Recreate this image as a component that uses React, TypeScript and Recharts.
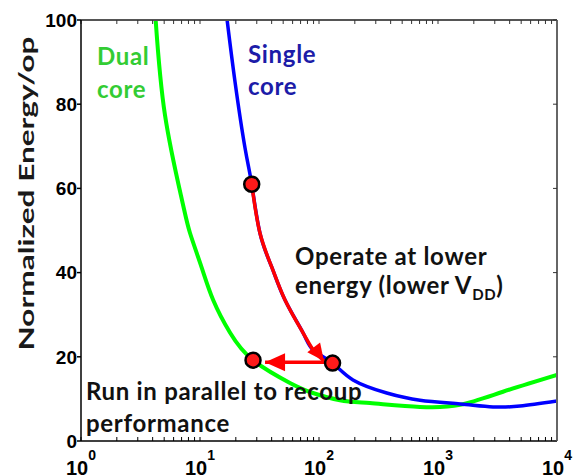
import React from 'react';
import { ComposedChart, Line, Scatter, XAxis, YAxis, ReferenceDot } from 'recharts';

// ---- data ----
const singleCoreOps = [16.9, 19.7, 23.9, 27.2, 31.9, 40.1, 51.8, 73.4, 89.5, 130, 193, 371, 706, 1531, 2898, 4887, 10000];
const singleCoreEnergy = [100, 85.3, 69.6, 61.0, 49.4, 41.3, 33.5, 25.7, 21.6, 18.5, 14.5, 11.4, 9.7, 8.8, 8.1, 8.3, 9.5];

const dualCoreOps = [4.24, 5.08, 7.06, 8.24, 10.3, 12.9, 17.9, 27.9, 57, 89, 150, 268, 706, 1531, 3516, 10000];
const dualCoreEnergy = [100, 77.4, 57.2, 49.4, 41.3, 33.5, 25.7, 19.2, 13.8, 11.4, 9.7, 9.0, 8.1, 8.6, 11.7, 15.7];

const lowerVddOps = [27.2, 31.9, 40.1, 51.8, 73.4, 89.5, 110];
const lowerVddEnergy = [61.0, 49.4, 41.3, 33.5, 25.7, 21.6, 19.0];

const parallelOps = [118, 35.2];
const parallelEnergy = [18.7, 18.7];

const markerOps = [27.2, 27.9, 130];
const markerEnergy = [61.0, 19.2, 18.5];

const xMajorTicks = [1, 10, 100, 1000, 10000];
const xTickExponents = ['0', '1', '2', '3', '4'];
const xAllTicks = [
  1, 2, 3, 4, 5, 6, 7, 8, 9,
  10, 20, 30, 40, 50, 60, 70, 80, 90,
  100, 200, 300, 400, 500, 600, 700, 800, 900,
  1000, 2000, 3000, 4000, 5000, 6000, 7000, 8000, 9000,
  10000,
];
const yTicks = [0, 20, 40, 60, 80, 100];

const toRows = (xs: number[], ys: number[]) => xs.map((x, i) => ({ x, y: ys[i] }));

const AXIS_FONT = 'Liberation Sans, Arial, sans-serif';
const TEXT_FONT = 'Lato, Open Sans, sans-serif';

const XTick = (props: any) => {
  const { x, y, payload } = props;
  const idx = xMajorTicks.indexOf(payload.value);
  return (
    <text x={x} y={y} textAnchor="middle" fontFamily={AXIS_FONT} fontWeight="bold" fill="#000">
      <tspan fontSize={20} dy={26}>10</tspan>
      <tspan fontSize={14} dy={-15}>{xTickExponents[idx]}</tspan>
    </text>
  );
};

const NoTick = () => <g />;

const makeArrowHead = (angleDeg: number, len: number, half: number, count: number) => (p: any) => {
  if (p.index !== count - 1 || p.cx == null) return <g key={`a-${p.index}`} />;
  const a = (angleDeg * Math.PI) / 180;
  const { cx, cy } = p;
  const bx = cx - len * Math.cos(a);
  const by = cy - len * Math.sin(a);
  const nx = -Math.sin(a) * half;
  const ny = Math.cos(a) * half;
  return (
    <polygon
      key={`a-${p.index}`}
      points={`${cx},${cy} ${bx + nx},${by + ny} ${bx - nx},${by - ny}`}
      fill="#ff0000"
    />
  );
};

const YLabel = (props: any) => {
  const vb = props.viewBox;
  const cx = vb.x + 25;
  const cy = vb.y + vb.height / 2 - 37;
  return (
    <text
      x={cx}
      y={cy}
      transform={`rotate(-90 ${cx} ${cy})`}
      textAnchor="middle"
      dominantBaseline="central"
      fontFamily={TEXT_FONT}
      fontWeight="bold"
      fontSize={21}
      textLength={314}
      lengthAdjust="spacingAndGlyphs"
      fill="#1a1a1a"
    >
      Normalized Energy/op
    </text>
  );
};

const multiLine = (lines: string[], color: string, lh: number, fs: number) => (p: any) => {
  const vb = p.viewBox;
  return (
    <text x={vb.x} y={vb.y} fill={color} fontFamily={TEXT_FONT} fontWeight="bold" fontSize={fs} letterSpacing={0.7}>
      {lines.map((l, i) => (
        <tspan key={i} x={vb.x} dy={i === 0 ? 0 : lh}>
          {l}
        </tspan>
      ))}
    </text>
  );
};

const operateLabel = (p: any) => {
  const vb = p.viewBox;
  return (
    <text x={vb.x} y={vb.y} fill="#111" fontFamily={TEXT_FONT} fontWeight="bold" fontSize={24} letterSpacing={0.7}>
      <tspan x={vb.x} dy={0}>Operate at lower</tspan>
      <tspan x={vb.x} dy={29}>energy (lower V</tspan>
      <tspan fontSize={15} dy={6}>DD</tspan>
      <tspan dy={-6}>)</tspan>
    </text>
  );
};

const Marker = (p: any) => (
  <circle cx={p.cx} cy={p.cy} r={7.5} fill="#ff1a1a" stroke="#000" strokeWidth={2.5} />
);

export default function App() {
  const single = toRows(singleCoreOps, singleCoreEnergy);
  const dual = toRows(dualCoreOps, dualCoreEnergy);
  const lowerVdd = toRows(lowerVddOps, lowerVddEnergy);
  const parallel = toRows(parallelOps, parallelEnergy);
  const markers = toRows(markerOps, markerEnergy);

  const xCommon = {
    dataKey: 'x',
    type: 'number' as const,
    scale: 'log' as const,
    domain: [1, 10000],
    allowDataOverflow: true,
    interval: 0 as const,
  };

  return (
    <div style={{ position: 'absolute', left: 0, top: 0, width: 576, height: 475, background: '#fff' }}>
      <ComposedChart width={576} height={475} margin={{ top: 20, right: 19, bottom: 0, left: 0 }}>
        <XAxis
          {...xCommon}
          xAxisId="main"
          ticks={xMajorTicks}
          tickLine={false}
          axisLine={{ stroke: '#000', strokeWidth: 1.5 }}
          height={34}
          tick={<XTick />}
        />
        <XAxis
          {...xCommon}
          xAxisId="bm"
          ticks={xAllTicks}
          mirror
          tickSize={4}
          tickLine={{ stroke: '#000', strokeWidth: 1 }}
          axisLine={false}
          tick={NoTick}
        />
        <XAxis
          {...xCommon}
          xAxisId="tm"
          orientation="top"
          ticks={xAllTicks}
          mirror
          tickSize={4}
          tickLine={{ stroke: '#333', strokeWidth: 1 }}
          axisLine={{ stroke: '#555', strokeWidth: 2 }}
          tick={NoTick}
        />
        <YAxis
          yAxisId="main"
          type="number"
          domain={[0, 100]}
          allowDataOverflow
          ticks={yTicks}
          interval={0}
          width={81}
          tickSize={4}
          tickMargin={0}
          tickLine={{ stroke: '#000', strokeWidth: 1.5 }}
          axisLine={{ stroke: '#000', strokeWidth: 1.5 }}
          tick={{ fontSize: 19, fontWeight: 'bold', fill: '#000', fontFamily: AXIS_FONT }}
          label={{ content: YLabel }}
        />
        <YAxis
          yAxisId="rm"
          orientation="right"
          type="number"
          domain={[0, 100]}
          allowDataOverflow
          ticks={yTicks}
          interval={0}
          mirror
          tickSize={4}
          tickLine={{ stroke: '#333', strokeWidth: 1 }}
          axisLine={{ stroke: '#666', strokeWidth: 2 }}
          tick={NoTick}
        />

        <Line
          xAxisId="main"
          yAxisId="main"
          data={dual}
          dataKey="y"
          type="natural"
          stroke="#00ff00"
          strokeWidth={4}
          dot={false}
          activeDot={false}
          isAnimationActive={false}
        />
        <Line
          xAxisId="main"
          yAxisId="main"
          data={single}
          dataKey="y"
          type="natural"
          stroke="#0000ff"
          strokeWidth={3.5}
          dot={false}
          activeDot={false}
          isAnimationActive={false}
        />
        <Line
          xAxisId="main"
          yAxisId="main"
          data={lowerVdd}
          dataKey="y"
          type="natural"
          stroke="#ff0000"
          strokeWidth={3.5}
          dot={makeArrowHead(53, 17, 8, lowerVdd.length)}
          activeDot={false}
          isAnimationActive={false}
        />
        <Line
          xAxisId="main"
          yAxisId="main"
          data={parallel}
          dataKey="y"
          type="linear"
          stroke="#ff0000"
          strokeWidth={3.5}
          dot={makeArrowHead(180, 20, 9, parallel.length)}
          activeDot={false}
          isAnimationActive={false}
        />
        <Scatter
          xAxisId="main"
          yAxisId="main"
          data={markers}
          dataKey="y"
          shape={Marker}
          isAnimationActive={false}
        />

        <ReferenceDot xAxisId="main" yAxisId="main" x={1.36} y={89.3} r={0} fill="none" stroke="none"
          label={{ content: multiLine(['Dual', 'core'], '#33cc33', 33, 24) }} />
        <ReferenceDot xAxisId="main" yAxisId="main" x={25.3} y={89.8} r={0} fill="none" stroke="none"
          label={{ content: multiLine(['Single', 'core'], '#1c1ca8', 32, 24) }} />
        <ReferenceDot xAxisId="main" yAxisId="main" x={62.9} y={41.8} r={0} fill="none" stroke="none"
          label={{ content: operateLabel }} />
        <ReferenceDot xAxisId="main" yAxisId="main" x={1.1} y={9.74} r={0} fill="none" stroke="none"
          label={{ content: multiLine(['Run in parallel to recoup', 'performance'], '#111', 32, 24) }} />
      </ComposedChart>
    </div>
  );
}
